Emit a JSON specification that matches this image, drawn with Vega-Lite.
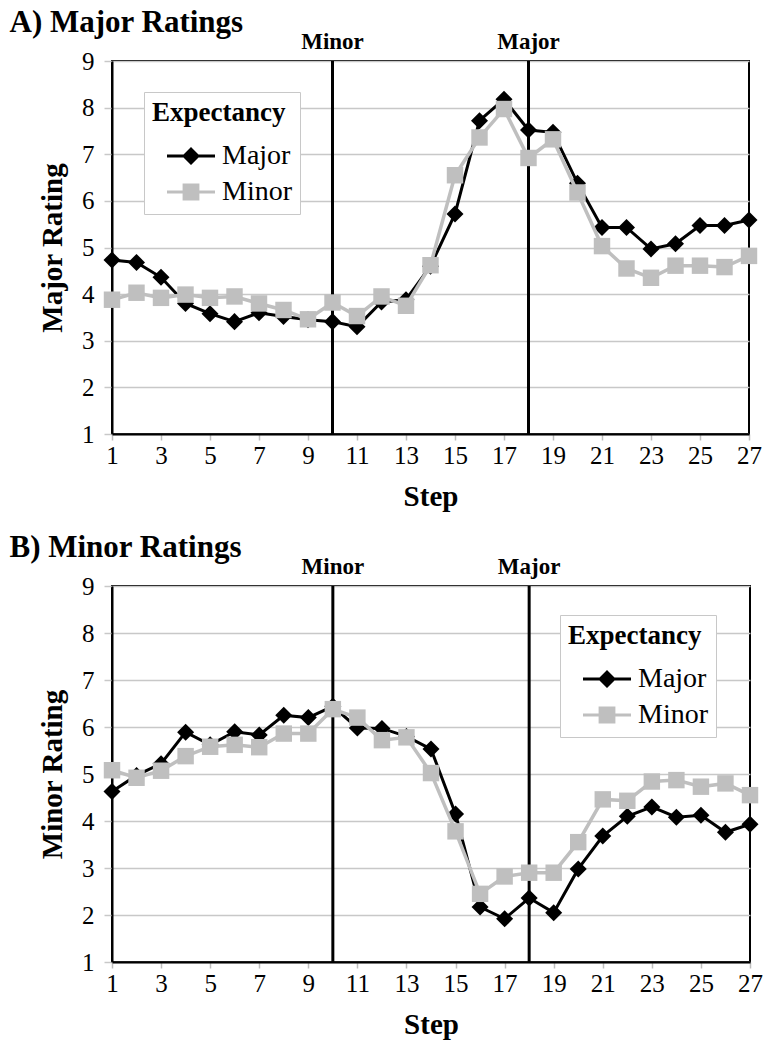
{
  "$schema": "https://vega.github.io/schema/vega-lite/v6.json",
  "padding": {"left": 8, "top": 6, "right": 5, "bottom": 4},
  "spacing": 19,
  "background": "white",
  "datasets": {
    "events": [
      {"step": 10, "label": "Minor"},
      {"step": 18, "label": "Major"}
    ],
    "ratings": [
      {"panel": "A", "expectancy": "Major", "step": 1, "rating": 4.73},
      {"panel": "A", "expectancy": "Major", "step": 2, "rating": 4.68},
      {"panel": "A", "expectancy": "Major", "step": 3, "rating": 4.36},
      {"panel": "A", "expectancy": "Major", "step": 4, "rating": 3.8},
      {"panel": "A", "expectancy": "Major", "step": 5, "rating": 3.58},
      {"panel": "A", "expectancy": "Major", "step": 6, "rating": 3.41},
      {"panel": "A", "expectancy": "Major", "step": 7, "rating": 3.6},
      {"panel": "A", "expectancy": "Major", "step": 8, "rating": 3.52},
      {"panel": "A", "expectancy": "Major", "step": 9, "rating": 3.45},
      {"panel": "A", "expectancy": "Major", "step": 10, "rating": 3.41},
      {"panel": "A", "expectancy": "Major", "step": 11, "rating": 3.3},
      {"panel": "A", "expectancy": "Major", "step": 12, "rating": 3.83},
      {"panel": "A", "expectancy": "Major", "step": 13, "rating": 3.88},
      {"panel": "A", "expectancy": "Major", "step": 14, "rating": 4.6},
      {"panel": "A", "expectancy": "Major", "step": 15, "rating": 5.72},
      {"panel": "A", "expectancy": "Major", "step": 16, "rating": 7.72},
      {"panel": "A", "expectancy": "Major", "step": 17, "rating": 8.18},
      {"panel": "A", "expectancy": "Major", "step": 18, "rating": 7.52},
      {"panel": "A", "expectancy": "Major", "step": 19, "rating": 7.47},
      {"panel": "A", "expectancy": "Major", "step": 20, "rating": 6.38},
      {"panel": "A", "expectancy": "Major", "step": 21, "rating": 5.43},
      {"panel": "A", "expectancy": "Major", "step": 22, "rating": 5.43},
      {"panel": "A", "expectancy": "Major", "step": 23, "rating": 4.97},
      {"panel": "A", "expectancy": "Major", "step": 24, "rating": 5.08},
      {"panel": "A", "expectancy": "Major", "step": 25, "rating": 5.47},
      {"panel": "A", "expectancy": "Major", "step": 26, "rating": 5.47},
      {"panel": "A", "expectancy": "Major", "step": 27, "rating": 5.59},
      {"panel": "A", "expectancy": "Minor", "step": 1, "rating": 3.88},
      {"panel": "A", "expectancy": "Minor", "step": 2, "rating": 4.03},
      {"panel": "A", "expectancy": "Minor", "step": 3, "rating": 3.92},
      {"panel": "A", "expectancy": "Minor", "step": 4, "rating": 3.99},
      {"panel": "A", "expectancy": "Minor", "step": 5, "rating": 3.92},
      {"panel": "A", "expectancy": "Minor", "step": 6, "rating": 3.95},
      {"panel": "A", "expectancy": "Minor", "step": 7, "rating": 3.8},
      {"panel": "A", "expectancy": "Minor", "step": 8, "rating": 3.66},
      {"panel": "A", "expectancy": "Minor", "step": 9, "rating": 3.46},
      {"panel": "A", "expectancy": "Minor", "step": 10, "rating": 3.82},
      {"panel": "A", "expectancy": "Minor", "step": 11, "rating": 3.53},
      {"panel": "A", "expectancy": "Minor", "step": 12, "rating": 3.95},
      {"panel": "A", "expectancy": "Minor", "step": 13, "rating": 3.75},
      {"panel": "A", "expectancy": "Minor", "step": 14, "rating": 4.62},
      {"panel": "A", "expectancy": "Minor", "step": 15, "rating": 6.55},
      {"panel": "A", "expectancy": "Minor", "step": 16, "rating": 7.36},
      {"panel": "A", "expectancy": "Minor", "step": 17, "rating": 7.97},
      {"panel": "A", "expectancy": "Minor", "step": 18, "rating": 6.92},
      {"panel": "A", "expectancy": "Minor", "step": 19, "rating": 7.32},
      {"panel": "A", "expectancy": "Minor", "step": 20, "rating": 6.18},
      {"panel": "A", "expectancy": "Minor", "step": 21, "rating": 5.03},
      {"panel": "A", "expectancy": "Minor", "step": 22, "rating": 4.55},
      {"panel": "A", "expectancy": "Minor", "step": 23, "rating": 4.35},
      {"panel": "A", "expectancy": "Minor", "step": 24, "rating": 4.61},
      {"panel": "A", "expectancy": "Minor", "step": 25, "rating": 4.61},
      {"panel": "A", "expectancy": "Minor", "step": 26, "rating": 4.58},
      {"panel": "A", "expectancy": "Minor", "step": 27, "rating": 4.82},
      {"panel": "B", "expectancy": "Major", "step": 1, "rating": 4.63},
      {"panel": "B", "expectancy": "Major", "step": 2, "rating": 4.97},
      {"panel": "B", "expectancy": "Major", "step": 3, "rating": 5.22},
      {"panel": "B", "expectancy": "Major", "step": 4, "rating": 5.89},
      {"panel": "B", "expectancy": "Major", "step": 5, "rating": 5.62},
      {"panel": "B", "expectancy": "Major", "step": 6, "rating": 5.9},
      {"panel": "B", "expectancy": "Major", "step": 7, "rating": 5.83},
      {"panel": "B", "expectancy": "Major", "step": 8, "rating": 6.25},
      {"panel": "B", "expectancy": "Major", "step": 9, "rating": 6.2},
      {"panel": "B", "expectancy": "Major", "step": 10, "rating": 6.44},
      {"panel": "B", "expectancy": "Major", "step": 11, "rating": 5.98},
      {"panel": "B", "expectancy": "Major", "step": 12, "rating": 5.97},
      {"panel": "B", "expectancy": "Major", "step": 13, "rating": 5.8},
      {"panel": "B", "expectancy": "Major", "step": 14, "rating": 5.53},
      {"panel": "B", "expectancy": "Major", "step": 15, "rating": 4.15},
      {"panel": "B", "expectancy": "Major", "step": 16, "rating": 2.17},
      {"panel": "B", "expectancy": "Major", "step": 17, "rating": 1.92},
      {"panel": "B", "expectancy": "Major", "step": 18, "rating": 2.36},
      {"panel": "B", "expectancy": "Major", "step": 19, "rating": 2.05},
      {"panel": "B", "expectancy": "Major", "step": 20, "rating": 2.98},
      {"panel": "B", "expectancy": "Major", "step": 21, "rating": 3.68},
      {"panel": "B", "expectancy": "Major", "step": 22, "rating": 4.1},
      {"panel": "B", "expectancy": "Major", "step": 23, "rating": 4.3},
      {"panel": "B", "expectancy": "Major", "step": 24, "rating": 4.08},
      {"panel": "B", "expectancy": "Major", "step": 25, "rating": 4.12},
      {"panel": "B", "expectancy": "Major", "step": 26, "rating": 3.76},
      {"panel": "B", "expectancy": "Major", "step": 27, "rating": 3.93},
      {"panel": "B", "expectancy": "Minor", "step": 1, "rating": 5.08},
      {"panel": "B", "expectancy": "Minor", "step": 2, "rating": 4.92},
      {"panel": "B", "expectancy": "Minor", "step": 3, "rating": 5.07},
      {"panel": "B", "expectancy": "Minor", "step": 4, "rating": 5.38},
      {"panel": "B", "expectancy": "Minor", "step": 5, "rating": 5.58},
      {"panel": "B", "expectancy": "Minor", "step": 6, "rating": 5.62},
      {"panel": "B", "expectancy": "Minor", "step": 7, "rating": 5.57},
      {"panel": "B", "expectancy": "Minor", "step": 8, "rating": 5.86},
      {"panel": "B", "expectancy": "Minor", "step": 9, "rating": 5.86},
      {"panel": "B", "expectancy": "Minor", "step": 10, "rating": 6.38},
      {"panel": "B", "expectancy": "Minor", "step": 11, "rating": 6.2},
      {"panel": "B", "expectancy": "Minor", "step": 12, "rating": 5.72},
      {"panel": "B", "expectancy": "Minor", "step": 13, "rating": 5.78},
      {"panel": "B", "expectancy": "Minor", "step": 14, "rating": 5.02},
      {"panel": "B", "expectancy": "Minor", "step": 15, "rating": 3.78},
      {"panel": "B", "expectancy": "Minor", "step": 16, "rating": 2.45},
      {"panel": "B", "expectancy": "Minor", "step": 17, "rating": 2.82},
      {"panel": "B", "expectancy": "Minor", "step": 18, "rating": 2.9},
      {"panel": "B", "expectancy": "Minor", "step": 19, "rating": 2.9},
      {"panel": "B", "expectancy": "Minor", "step": 20, "rating": 3.55},
      {"panel": "B", "expectancy": "Minor", "step": 21, "rating": 4.46},
      {"panel": "B", "expectancy": "Minor", "step": 22, "rating": 4.43},
      {"panel": "B", "expectancy": "Minor", "step": 23, "rating": 4.84},
      {"panel": "B", "expectancy": "Minor", "step": 24, "rating": 4.87},
      {"panel": "B", "expectancy": "Minor", "step": 25, "rating": 4.73},
      {"panel": "B", "expectancy": "Minor", "step": 26, "rating": 4.8},
      {"panel": "B", "expectancy": "Minor", "step": 27, "rating": 4.55}
    ]
  },
  "vconcat": [
    {
      "width": 637,
      "height": 373,
      "title": {"text": "A) Major Ratings", "anchor": "start", "frame": "bounds", "dx": -29, "offset": -8, "fontSize": 31, "fontWeight": "bold", "font": "Liberation Serif", "color": "black"},
      "layer": [
        {
          "data": {"name": "events"},
          "mark": {"type": "rule", "color": "black", "strokeWidth": 3},
          "encoding": {
            "x": {"field": "step", "type": "quantitative", "scale": {"domain": [1, 27], "nice": false, "zero": false}},
            "y": {"datum": 1, "type": "quantitative"},
            "y2": {"datum": 9}
          }
        },
        {
          "data": {"name": "events"},
          "mark": {"type": "text", "fontSize": 23, "fontWeight": "bold", "font": "Liberation Serif", "baseline": "alphabetic", "dy": -12, "color": "black"},
          "encoding": {
            "x": {"field": "step", "type": "quantitative"},
            "y": {"datum": 9, "type": "quantitative"},
            "text": {"field": "label"}
          }
        },
        {
          "data": {"name": "ratings"},
          "transform": [{"filter": "datum.panel === 'A' && datum.expectancy === 'Major'"}],
          "mark": {"type": "line", "color": "black", "strokeWidth": 3},
          "encoding": {
            "x": {"field": "step", "type": "quantitative", "scale": {"domain": [1, 27], "nice": false, "zero": false},
              "axis": {"values": [1, 3, 5, 7, 9, 11, 13, 15, 17, 19, 21, 23, 25, 27], "title": "Step", "grid": false, "tickColor": "#bdbdbd", "tickSize": 6, "tickWidth": 1.5, "labelPadding": 3, "domainColor": "black", "domainWidth": 2, "labelFont": "Liberation Serif", "labelFontSize": 25, "labelFontWeight": 400, "titleFont": "Liberation Serif", "titleFontSize": 29, "titleFontWeight": "bold", "titlePadding": 14, "labelFlush": false}},
            "y": {"field": "rating", "type": "quantitative", "scale": {"domain": [1, 9], "nice": false, "zero": false},
              "axis": {"values": [1, 2, 3, 4, 5, 6, 7, 8, 9], "title": "Major Rating", "grid": true, "gridColor": "#c8c8c8", "gridWidth": 1.5, "tickColor": "#c8c8c8", "tickSize": 8, "tickWidth": 1.5, "labelPadding": 10, "domainColor": "black", "domainWidth": 2, "labelFont": "Liberation Serif", "labelFontSize": 25, "labelFontWeight": 400, "titleFont": "Liberation Serif", "titleFontSize": 29, "titleFontWeight": "bold", "titlePadding": 14}}
          }
        },
        {
          "data": {"name": "ratings"},
          "transform": [{"filter": "datum.panel === 'A' && datum.expectancy === 'Major'"}],
          "mark": {"type": "point", "shape": "diamond", "filled": true, "opacity": 1, "size": 290, "color": "black"},
          "encoding": {
            "x": {"field": "step", "type": "quantitative"},
            "y": {"field": "rating", "type": "quantitative"}
          }
        },
        {
          "data": {"name": "ratings"},
          "transform": [{"filter": "datum.panel === 'A' && datum.expectancy === 'Minor'"}],
          "mark": {"type": "line", "color": "#bfbfbf", "strokeWidth": 3.5},
          "encoding": {
            "x": {"field": "step", "type": "quantitative"},
            "y": {"field": "rating", "type": "quantitative"}
          }
        },
        {
          "data": {"name": "ratings"},
          "transform": [{"filter": "datum.panel === 'A' && datum.expectancy === 'Minor'"}],
          "mark": {"type": "point", "shape": "square", "filled": true, "opacity": 1, "size": 270, "color": "#bfbfbf"},
          "encoding": {
            "x": {"field": "step", "type": "quantitative"},
            "y": {"field": "rating", "type": "quantitative"}
          }
        },
        {
          "data": {"name": "ratings"},
          "transform": [{"filter": "datum.panel === 'A'"}],
          "mark": {"type": "point", "filled": true, "opacity": 0, "size": 1600},
          "encoding": {
            "color": {"field": "expectancy", "type": "nominal", "scale": {"domain": ["Major", "Minor"], "range": ["black", "#bfbfbf"]},
              "legend": {"orient": "none", "legendX": 32, "legendY": 31, "title": "Expectancy", "titleFont": "Liberation Serif", "titleFontSize": 27, "titleFontWeight": "bold", "titleColor": "black", "titlePadding": 8, "labelFont": "Liberation Serif", "labelFontWeight": 400, "labelFontSize": 28, "labelColor": "black", "strokeColor": "#c8c8c8", "fillColor": "white", "padding": 8, "symbolSize": 1600, "symbolOffset": 18, "labelOffset": 10, "rowPadding": 1, "symbolOpacity": 1}},
            "shape": {"field": "expectancy", "type": "nominal", "scale": {"domain": ["Major", "Minor"], "range": ["M-1.2,-0.075H1.2V0.075H-1.2Z M0,-0.45L0.45,0L0,0.45L-0.45,0Z", "M-1.2,-0.075H1.2V0.075H-1.2Z M-0.42,-0.42H0.42V0.42H-0.42Z"]},
              "legend": {"orient": "none", "legendX": 32, "legendY": 31, "title": "Expectancy", "titleFont": "Liberation Serif", "titleFontSize": 27, "titleFontWeight": "bold", "titleColor": "black", "titlePadding": 8, "labelFont": "Liberation Serif", "labelFontWeight": 400, "labelFontSize": 28, "labelColor": "black", "strokeColor": "#c8c8c8", "fillColor": "white", "padding": 8, "symbolSize": 1600, "symbolOffset": 18, "labelOffset": 10, "rowPadding": 1, "symbolOpacity": 1}}
          }
        }
      ]
    },
    {
      "width": 638,
      "height": 376,
      "title": {"text": "B) Minor Ratings", "anchor": "start", "frame": "bounds", "dx": -29, "offset": -8, "fontSize": 31, "fontWeight": "bold", "font": "Liberation Serif", "color": "black"},
      "layer": [
        {
          "data": {"name": "events"},
          "mark": {"type": "rule", "color": "black", "strokeWidth": 3},
          "encoding": {
            "x": {"field": "step", "type": "quantitative", "scale": {"domain": [1, 27], "nice": false, "zero": false}},
            "y": {"datum": 1, "type": "quantitative"},
            "y2": {"datum": 9}
          }
        },
        {
          "data": {"name": "events"},
          "mark": {"type": "text", "fontSize": 23, "fontWeight": "bold", "font": "Liberation Serif", "baseline": "alphabetic", "dy": -12, "color": "black"},
          "encoding": {
            "x": {"field": "step", "type": "quantitative"},
            "y": {"datum": 9, "type": "quantitative"},
            "text": {"field": "label"}
          }
        },
        {
          "data": {"name": "ratings"},
          "transform": [{"filter": "datum.panel === 'B' && datum.expectancy === 'Major'"}],
          "mark": {"type": "line", "color": "black", "strokeWidth": 3},
          "encoding": {
            "x": {"field": "step", "type": "quantitative", "scale": {"domain": [1, 27], "nice": false, "zero": false},
              "axis": {"values": [1, 3, 5, 7, 9, 11, 13, 15, 17, 19, 21, 23, 25, 27], "title": "Step", "grid": false, "tickColor": "#bdbdbd", "tickSize": 6, "tickWidth": 1.5, "labelPadding": 3, "domainColor": "black", "domainWidth": 2, "labelFont": "Liberation Serif", "labelFontSize": 25, "labelFontWeight": 400, "titleFont": "Liberation Serif", "titleFontSize": 29, "titleFontWeight": "bold", "titlePadding": 14, "labelFlush": false}},
            "y": {"field": "rating", "type": "quantitative", "scale": {"domain": [1, 9], "nice": false, "zero": false},
              "axis": {"values": [1, 2, 3, 4, 5, 6, 7, 8, 9], "title": "Minor Rating", "grid": true, "gridColor": "#c8c8c8", "gridWidth": 1.5, "tickColor": "#c8c8c8", "tickSize": 8, "tickWidth": 1.5, "labelPadding": 10, "domainColor": "black", "domainWidth": 2, "labelFont": "Liberation Serif", "labelFontSize": 25, "labelFontWeight": 400, "titleFont": "Liberation Serif", "titleFontSize": 29, "titleFontWeight": "bold", "titlePadding": 14}}
          }
        },
        {
          "data": {"name": "ratings"},
          "transform": [{"filter": "datum.panel === 'B' && datum.expectancy === 'Major'"}],
          "mark": {"type": "point", "shape": "diamond", "filled": true, "opacity": 1, "size": 290, "color": "black"},
          "encoding": {
            "x": {"field": "step", "type": "quantitative"},
            "y": {"field": "rating", "type": "quantitative"}
          }
        },
        {
          "data": {"name": "ratings"},
          "transform": [{"filter": "datum.panel === 'B' && datum.expectancy === 'Minor'"}],
          "mark": {"type": "line", "color": "#bfbfbf", "strokeWidth": 3.5},
          "encoding": {
            "x": {"field": "step", "type": "quantitative"},
            "y": {"field": "rating", "type": "quantitative"}
          }
        },
        {
          "data": {"name": "ratings"},
          "transform": [{"filter": "datum.panel === 'B' && datum.expectancy === 'Minor'"}],
          "mark": {"type": "point", "shape": "square", "filled": true, "opacity": 1, "size": 270, "color": "#bfbfbf"},
          "encoding": {
            "x": {"field": "step", "type": "quantitative"},
            "y": {"field": "rating", "type": "quantitative"}
          }
        },
        {
          "data": {"name": "ratings"},
          "transform": [{"filter": "datum.panel === 'B'"}],
          "mark": {"type": "point", "filled": true, "opacity": 0, "size": 1600},
          "encoding": {
            "color": {"field": "expectancy", "type": "nominal", "scale": {"domain": ["Major", "Minor"], "range": ["black", "#bfbfbf"]},
              "legend": {"orient": "none", "legendX": 448, "legendY": 29, "title": "Expectancy", "titleFont": "Liberation Serif", "titleFontSize": 27, "titleFontWeight": "bold", "titleColor": "black", "titlePadding": 8, "labelFont": "Liberation Serif", "labelFontWeight": 400, "labelFontSize": 28, "labelColor": "black", "strokeColor": "#c8c8c8", "fillColor": "white", "padding": 8, "symbolSize": 1600, "symbolOffset": 18, "labelOffset": 10, "rowPadding": 1, "symbolOpacity": 1}},
            "shape": {"field": "expectancy", "type": "nominal", "scale": {"domain": ["Major", "Minor"], "range": ["M-1.2,-0.075H1.2V0.075H-1.2Z M0,-0.45L0.45,0L0,0.45L-0.45,0Z", "M-1.2,-0.075H1.2V0.075H-1.2Z M-0.42,-0.42H0.42V0.42H-0.42Z"]},
              "legend": {"orient": "none", "legendX": 448, "legendY": 29, "title": "Expectancy", "titleFont": "Liberation Serif", "titleFontSize": 27, "titleFontWeight": "bold", "titleColor": "black", "titlePadding": 8, "labelFont": "Liberation Serif", "labelFontWeight": 400, "labelFontSize": 28, "labelColor": "black", "strokeColor": "#c8c8c8", "fillColor": "white", "padding": 8, "symbolSize": 1600, "symbolOffset": 18, "labelOffset": 10, "rowPadding": 1, "symbolOpacity": 1}}
          }
        }
      ]
    }
  ],
  "resolve": {"scale": {"color": "independent", "shape": "independent"}, "legend": {"color": "independent", "shape": "independent"}},
  "config": {
    "font": "Liberation Serif",
    "view": {"stroke": "black", "strokeWidth": 2},
    "axis": {"labelColor": "black", "titleColor": "black"},
    "legend": {"titleFont": "Liberation Serif"}
  }
}
